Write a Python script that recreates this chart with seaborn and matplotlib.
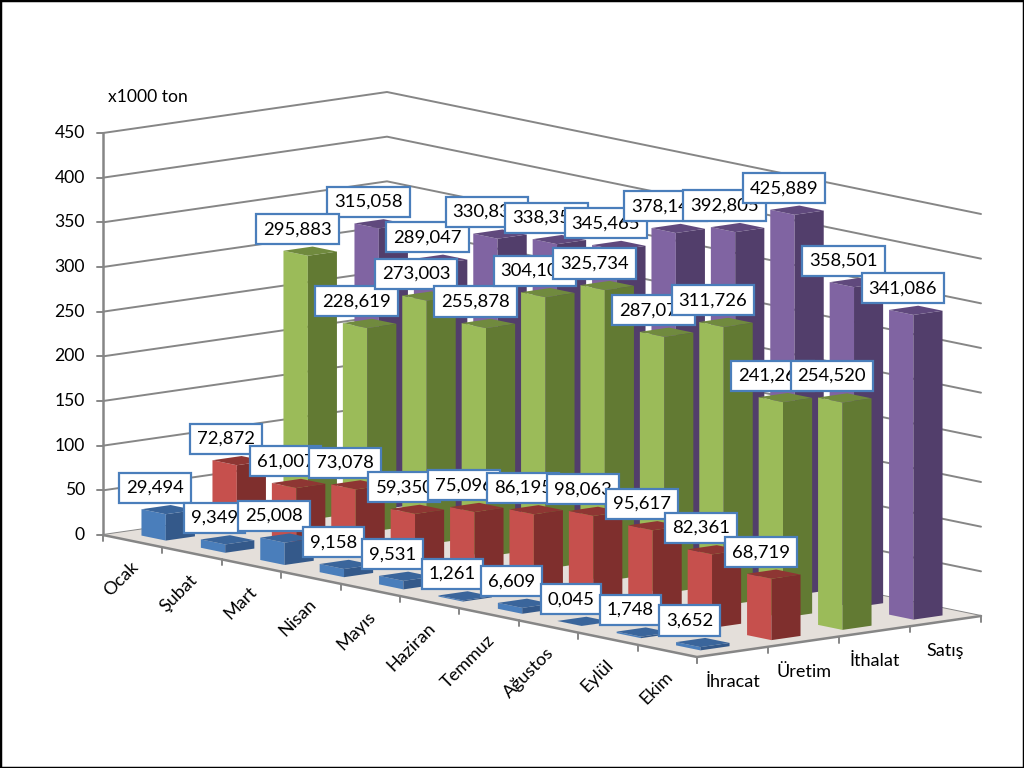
import numpy as np
import seaborn as sns
import matplotlib.pyplot as plt

months = ['Ocak', 'Şubat', 'Mart', 'Nisan', 'Mayıs', 'Haziran', 'Temmuz', 'Ağustos', 'Eylül', 'Ekim']
series = ['İhracat', 'Üretim', 'İthalat', 'Satış']

ihracat = [29.494, 9.349, 25.008, 9.158, 9.531, 1.261, 6.609, 0.045, 1.748, 3.652]
uretim = [72.872, 61.007, 73.078, 59.350, 75.096, 86.195, 98.063, 95.617, 82.361, 68.719]
ithalat = [295.883, 228.619, 273.003, 255.878, 304.105, 325.734, 287.075, 311.726, 241.265, 254.520]
satis = [315.058, 289.047, 330.835, 338.355, 345.465, 378.145, 392.805, 425.889, 358.501, 341.086]

y_ticks = list(range(0, 451, 50))

# left face, right face, top face
colors = [('#4A7EBB', '#34598A', '#3A659B'),
          ('#C6504D', '#7F2F2D', '#8E3633'),
          ('#9BBB59', '#627A33', '#708A3E'),
          ('#8064A2', '#523E6B', '#60497D')]

sns.set_theme(style='white')
plt.rcParams['font.family'] = ['Lato', 'DejaVu Sans']

GREY = '#868686'
FS = 12.6
LABEL_FS = 13.3
ORIGIN = np.array([103.0, 535.0])
U = np.array([59.4, 12.2])     # one month along the floor
V = np.array([71.0, -10.25])   # one series along the floor
Z = np.array([0.0, -402.0 / 450])
BAR = 0.205                    # half width of a bar inside its cell


def project(u, v, z=0):
    return ORIGIN + u * U + v * V + z * Z


fig = plt.figure(figsize=(10.24, 7.68), dpi=100)
ax = fig.add_axes([0, 0, 1, 1])
ax.set_xlim(0, 1024)
ax.set_ylim(768, 0)
ax.set_xticks([])
ax.set_yticks([])
for s in ax.spines.values():
    s.set_visible(True)
    s.set_color('black')
    s.set_linewidth(2.5)

n_u, n_v = len(months), len(series)

# walls
for val in y_ticks:
    pts = np.array([project(0, 0, val), project(0, n_v, val), project(n_u, n_v, val)])
    ax.plot(pts[:, 0], pts[:, 1], color=GREY, lw=1.4, zorder=1)
    p = project(0, 0, val)
    ax.plot([p[0] - 6, p[0]], [p[1], p[1]], color=GREY, lw=1.4, zorder=1)
    ax.text(p[0] - 18, p[1], str(val), ha='right', va='center', fontsize=FS, color='black')
pts = np.array([project(0, 0, 0), project(0, 0, y_ticks[-1])])
ax.plot(pts[:, 0], pts[:, 1], color=GREY, lw=1.8, zorder=1)
ax.text(108, 97, 'x1000 ton', ha='left', va='center', fontsize=FS, color='black')

# floor
floor = np.array([project(0, 0), project(n_u, 0), project(n_u, n_v), project(0, n_v)])
ax.fill(floor[:, 0], floor[:, 1], color='#E4DFDA', lw=0, zorder=2)
front = np.array([project(0, 0), project(n_u, 0), project(n_u, n_v)])
ax.plot(front[:, 0], front[:, 1], color=GREY, lw=1.8, zorder=3)

# ticks and category labels
for i in range(n_u + 1):
    p = project(i, 0)
    ax.plot([p[0], p[0]], [p[1], p[1] + 6], color=GREY, lw=1.4, zorder=3)
for j in range(n_v + 1):
    p = project(n_u, j)
    ax.plot([p[0], p[0]], [p[1], p[1] + 6], color=GREY, lw=1.4, zorder=3)
for i, name in enumerate(months):
    p = project(i + 0.5, 0)
    ax.text(p[0] - 3, p[1] + 18, name, rotation=45, rotation_mode='anchor', ha='right', va='top',
            fontsize=13, color='black')
for j, name in enumerate(series):
    p = project(n_u, j + 0.5)
    ax.text(p[0], p[1] + 30, name, ha='center', va='center', fontsize=13, color='black')

# bars, back to front
table = [ihracat, uretim, ithalat, satis]
order = 10
for j in range(n_v - 1, -1, -1):
    for i in range(n_u):
        h = table[j][i]
        u0, u1 = i + 0.5 - BAR, i + 0.5 + BAR
        v0, v1 = j + 0.5 - BAR, j + 0.5 + BAR
        left = np.array([project(u0, v0), project(u1, v0), project(u1, v0, h), project(u0, v0, h)])
        right = np.array([project(u1, v0), project(u1, v1), project(u1, v1, h), project(u1, v0, h)])
        top = np.array([project(u0, v0, h), project(u1, v0, h), project(u1, v1, h), project(u0, v1, h)])
        for poly, c in zip((left, right, top), colors[j]):
            ax.fill(poly[:, 0], poly[:, 1], color=c, lw=0, zorder=order)
        order += 1

# data labels sit above all the bars
for j in range(n_v - 1, -1, -1):
    for i in range(n_u):
        h = table[j][i]
        p = project(i + 0.5, j + 0.5, h)
        ax.text(p[0] - 13, p[1] - 22, f'{h:.3f}'.replace('.', ','), ha='center', va='center',
                fontsize=LABEL_FS, color='black', zorder=order,
                bbox=dict(boxstyle='square,pad=0.38', fc='white', ec='#4A7EBB', lw=1.6))
        order += 1

fig.savefig('out.png', dpi=100)
